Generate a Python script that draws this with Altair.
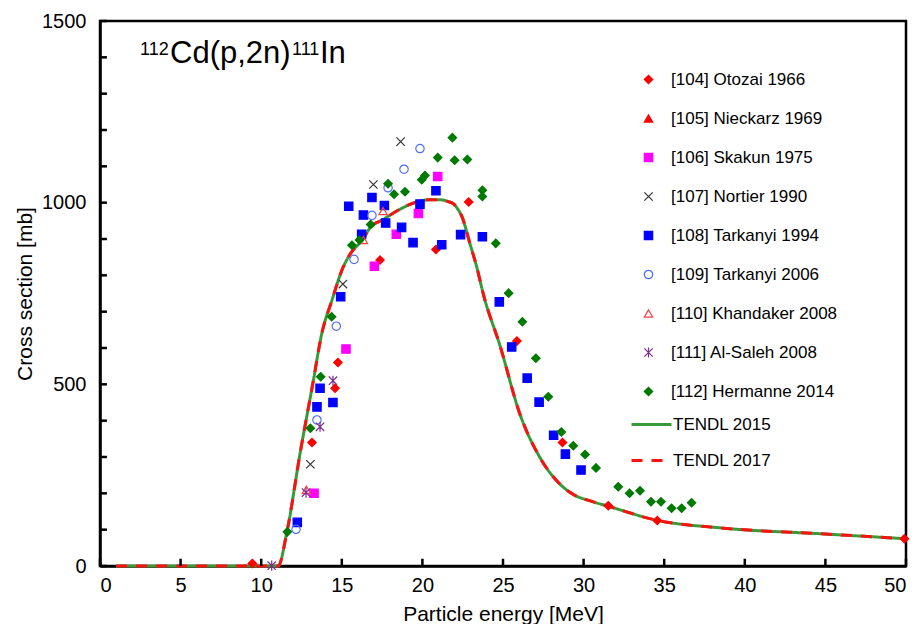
import altair as alt
import pandas as pd

FONT = "Liberation Sans"

# ---------------- data ----------------
series_names = [
    "[104] Otozai 1966", "[105] Nieckarz 1969", "[106] Skakun 1975",
    "[107] Nortier 1990", "[108] Tarkanyi 1994", "[109] Tarkanyi 2006",
    "[110] Khandaker 2008", "[111] Al-Saleh 2008", "[112] Hermanne 2014",
]

otozai_x = [9.45, 13.15, 14.58, 14.76, 17.37, 20.84, 22.87, 25.86, 28.69, 31.53, 34.57, 49.9]
otozai_y = [7, 340, 489, 560, 842, 871, 1002, 619, 340, 166, 125, 75]

nieckarz_x = []
nieckarz_y = []

skakun_x = [13.28, 15.26, 17.02, 18.38, 19.75, 20.95]
skakun_y = [200, 597, 825, 913, 970, 1072]

nortier_x = [13.05, 15.07, 16.96, 18.65]
nortier_y = [280, 776, 1050, 1168]

tark94_x = [12.24, 13.46, 13.65, 14.45, 14.93, 15.43, 16.23, 16.34, 16.87, 17.64, 17.72,
            18.71, 19.42, 19.85, 20.84, 21.2, 22.37, 23.72, 24.77, 25.54, 26.5, 27.24,
            28.14, 28.87, 29.84]
tark94_y = [120, 438, 489, 450, 741, 990, 913, 966, 1014, 992, 944,
            932, 890, 996, 1033, 884, 912, 906, 727, 603, 517, 451,
            360, 308, 264]

tark06_x = [12.16, 13.46, 14.66, 15.76, 16.87, 17.87, 18.86, 19.85]
tark06_y = [101, 402, 660, 844, 965, 1041, 1092, 1149]

khandaker_x = [12.8, 16.34, 17.56]
khandaker_y = [210, 897, 977]

alsaleh_x = [10.65, 12.78, 13.65, 14.45]
alsaleh_y = [1, 202, 383, 510]

hermanne_x = [11.62, 13.05, 13.69, 14.37, 15.63, 16.09, 16.79, 17.87, 18.24, 18.92, 19.96,
              20.16, 20.95, 21.86, 22.0, 22.79, 23.72, 23.72, 24.55, 25.35, 26.2, 27.04,
              27.81, 28.62, 29.36, 30.09, 30.77, 32.15, 32.85, 33.5, 34.18, 34.8, 35.46,
              36.08, 36.7]
hermanne_y = [94, 379, 521, 686, 883, 897, 940, 1052, 1023, 1030, 1063,
              1075, 1124, 1179, 1117, 1119, 1034, 1017, 888, 751, 672, 572,
              466, 369, 331, 307, 270, 218, 200, 207, 177, 177, 159,
              159, 174]

tendl_x = [1, 11.05, 11.6, 12.4, 13.23, 13.75, 14.37, 15.09, 15.51, 16.34, 16.75, 17.58,
           18.41, 19.65, 20.4, 21.09, 21.6, 21.92, 22.2, 22.44, 22.95, 23.37, 23.78,
           24.81, 26.05, 27.3, 28.54, 29.36, 30.5, 31.64, 34.53, 38.46, 45, 50]
tendl_y = [0, 0, 95, 307, 509, 638, 729, 823, 858, 901, 931, 954,
           977, 1002, 1008, 1008, 1003, 997, 982, 963, 887, 823, 748,
           607, 418, 298, 225, 197, 178, 163, 126, 105, 88, 75]

model_names = ["TENDL 2015", "TENDL 2017"]

x_ticks = [0, 5, 10, 15, 20, 25, 30, 35, 40, 45, 50]
y_ticks = [0, 100, 200, 300, 400, 500, 600, 700, 800, 900, 1000, 1100, 1200, 1300, 1400, 1500]
y_labels = [0, 500, 1000, 1500]

title_parts = ["112", "Cd(p,2n)", "111", "In"]

# ---------------- tables ----------------
all_sets = [
    (otozai_x, otozai_y), (nieckarz_x, nieckarz_y), (skakun_x, skakun_y),
    (nortier_x, nortier_y), (tark94_x, tark94_y), (tark06_x, tark06_y),
    (khandaker_x, khandaker_y), (alsaleh_x, alsaleh_y), (hermanne_x, hermanne_y),
]
rows = []
for name, (xs, ys) in zip(series_names, all_sets):
    for a, b in zip(xs, ys):
        rows.append({"E": a, "sigma": b, "series": name})
pts = pd.DataFrame(rows)

lines = pd.DataFrame(
    [{"E": a, "sigma": b, "model": m, "order": i}
     for m in model_names for i, (a, b) in enumerate(zip(tendl_x, tendl_y))]
)

xt = pd.DataFrame({"t": x_ticks})
yt = pd.DataFrame({"t": y_ticks})

# ---------------- styles ----------------
X_PATH = "M-1,-1L1,1M-1,1L1,-1"
AST_PATH = "M-1,-1L1,1M-1,1L1,-1M0,-1.2L0,1.2"
shapes = ["diamond", "triangle-up", "square", X_PATH, "square", "circle",
          "triangle-up", AST_PATH, "diamond"]
fills = ["#ff0000", "#ff0000", "#ff00ff", "transparent", "#0000ff", "transparent",
         "transparent", "transparent", "#007a00"]
strokes = ["#ff0000", "#ff0000", "#ff00ff", "#333333", "#0000ff", "#4f6ef7",
           "#ff4040", "#7b2c8c", "#007a00"]
sizes = [70, 70, 64, 45, 64, 70, 60, 60, 70]

W, H = 806, 545
xscale = alt.Scale(domain=[0, 50], nice=False, zero=False)
yscale = alt.Scale(domain=[0, 1500], nice=False)

xaxis = alt.Axis(values=x_ticks, format="d", title="Particle energy [MeV]", ticks=False,
                 labelPadding=9, titlePadding=8, grid=False)
yaxis = alt.Axis(values=y_labels, format="d", title="Cross section [mb]", ticks=False,
                 labelPadding=14, titlePadding=6, grid=False)

line_leg = alt.Legend(title=None, orient="none", legendX=530, legendY=382,
                      symbolType="stroke", symbolSize=1600, symbolStrokeWidth=3,
                      labelOffset=0, rowPadding=6, labelFontSize=17,
                      labelFont=FONT, labelColor="black", labelLimit=300)

curve = alt.Chart(lines).mark_line(strokeWidth=3, interpolate="monotone").encode(
    x=alt.X("E:Q", scale=xscale, axis=xaxis),
    y=alt.Y("sigma:Q", scale=yscale, axis=yaxis),
    color=alt.Color("model:N", scale=alt.Scale(domain=model_names, range=["#3a9a3a", "#ff1010"]),
                    legend=line_leg),
    strokeDash=alt.StrokeDash("model:N", scale=alt.Scale(domain=model_names,
                                                         range=[[1, 0], [11, 9]]),
                              legend=line_leg),
    order="order:Q",
)

leg = alt.Legend(title=None, orient="none", legendX=540, legendY=50, labelOffset=14,
                 rowPadding=21, labelFontSize=17, labelFont=FONT, labelColor="black",
                 symbolStrokeWidth=1.2, labelLimit=300)

points = alt.Chart(pts).mark_point(strokeWidth=1.2, opacity=1).encode(
    x=alt.X("E:Q", scale=xscale),
    y=alt.Y("sigma:Q", scale=yscale),
    shape=alt.Shape("series:N", scale=alt.Scale(domain=series_names, range=shapes), legend=leg),
    fill=alt.Fill("series:N", scale=alt.Scale(domain=series_names, range=fills), legend=leg),
    stroke=alt.Stroke("series:N", scale=alt.Scale(domain=series_names, range=strokes), legend=leg),
    size=alt.Size("series:N", scale=alt.Scale(domain=series_names, range=sizes), legend=leg),
)

xtick_marks = alt.Chart(xt).mark_rule(color="black", strokeWidth=2.5).encode(
    x=alt.X("t:Q", scale=xscale), y=alt.datum(0), y2=alt.datum(20))
ytick_marks = alt.Chart(yt).mark_rule(color="black", strokeWidth=2.5).encode(
    y=alt.Y("t:Q", scale=yscale), x=alt.datum(0), x2=alt.datum(0.43))

def part(txt, x, y, size):
    return alt.Chart(pd.DataFrame({"t": [txt]})).mark_text(
        font=FONT, fontSize=size, align="left", baseline="alphabetic", color="black"
    ).encode(x=alt.value(x), y=alt.value(y), text="t:N")

label_layers = [
    part(title_parts[0], 40, 34, 18),
    part(title_parts[1], 70, 42, 31),
    part(title_parts[2], 192, 34, 18),
    part(title_parts[3], 220, 42, 31),
]

chart = alt.layer(curve, points, xtick_marks, ytick_marks, *label_layers).properties(
    width=W, height=H,
    background="white",
    autosize=alt.AutoSizeParams(type="none"),
    padding={"left": 92, "top": 13, "right": 4, "bottom": 58},
).configure_view(
    stroke="black", strokeWidth=2.5
).configure_axis(
    domainColor="black", domainWidth=2.5, labelFont=FONT, titleFont=FONT,
    labelFontSize=20, titleFontSize=21, labelColor="black", titleColor="black",
    titleFontWeight="normal",
)

chart.save("out.html", embed_options={"renderer": "svg", "actions": False})
